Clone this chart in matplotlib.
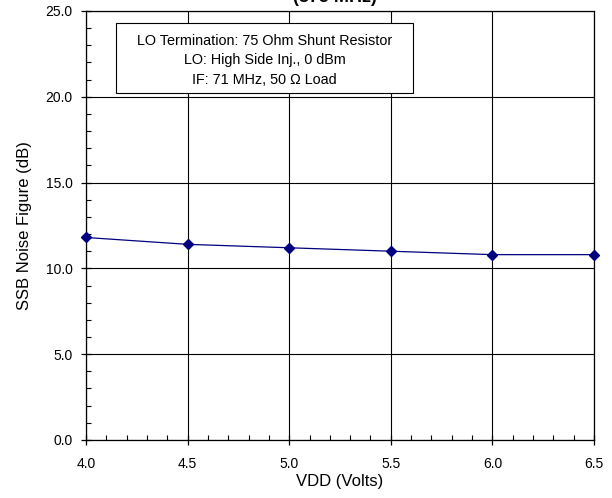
import numpy as np
import matplotlib
matplotlib.use("Agg")
import matplotlib.pyplot as plt
from matplotlib.ticker import MultipleLocator
from matplotlib.patches import Rectangle

plt.rcParams['font.family'] = ['Liberation Sans', 'DejaVu Sans']

# Дані
vdd = [4.0, 4.5, 5.0, 5.5, 6.0, 6.5]
nf = [11.8, 11.4, 11.2, 11.0, 10.8, 10.8]

fig = plt.figure(figsize=(6.12, 4.98), dpi=100)
ax = fig.add_axes([0.1405, 0.1165, 0.8301, 0.8615])

ax.plot(vdd, nf, color='#000080', marker='D', markersize=5, linewidth=0.9, clip_on=False, zorder=3)

ax.set_xlim(4.0, 6.5)
ax.set_ylim(0, 25)
ax.xaxis.set_major_locator(MultipleLocator(0.5))
ax.xaxis.set_minor_locator(MultipleLocator(0.1))
ax.yaxis.set_major_locator(MultipleLocator(5))
ax.yaxis.set_minor_locator(MultipleLocator(1))
ax.xaxis.set_major_formatter(plt.FormatStrFormatter('%.1f'))
ax.yaxis.set_major_formatter(plt.FormatStrFormatter('%.1f'))
ax.tick_params(which='major', direction='inout', length=7, width=0.9, labelsize=10, colors='black')
ax.tick_params(which='minor', direction='in', length=3.5, width=0.8)
ax.tick_params(axis='x', which='major', pad=9)
ax.tick_params(axis='y', which='major', pad=6)
ax.grid(True, which='major', color='black', linewidth=0.8)
for s in ax.spines.values():
    s.set_linewidth(0.9)

ax.set_xlabel("VDD (Volts)", fontsize=12, labelpad=2)
ax.set_ylabel("SSB Noise Figure (dB)", fontsize=12, labelpad=10)

# заголовок обрізаний зверху
fig.text(0.548, 0.995, "(875 MHz)", ha='center', va='baseline', fontsize=13, fontweight='bold')

# рамка з умовами вимірювання
ax.add_patch(Rectangle((0.059, 0.809), 0.585, 0.163, transform=ax.transAxes,
                       facecolor='white', edgecolor='black', linewidth=0.8, zorder=4))
ax.text(0.3515, 0.885, "LO Termination: 75 Ohm Shunt Resistor\nLO: High Side Inj., 0 dBm\nIF: 71 MHz, 50 Ω Load",
        transform=ax.transAxes, ha='center', va='center', fontsize=10.4, linespacing=1.5, zorder=5)

fig.savefig("out.png", dpi=100)
